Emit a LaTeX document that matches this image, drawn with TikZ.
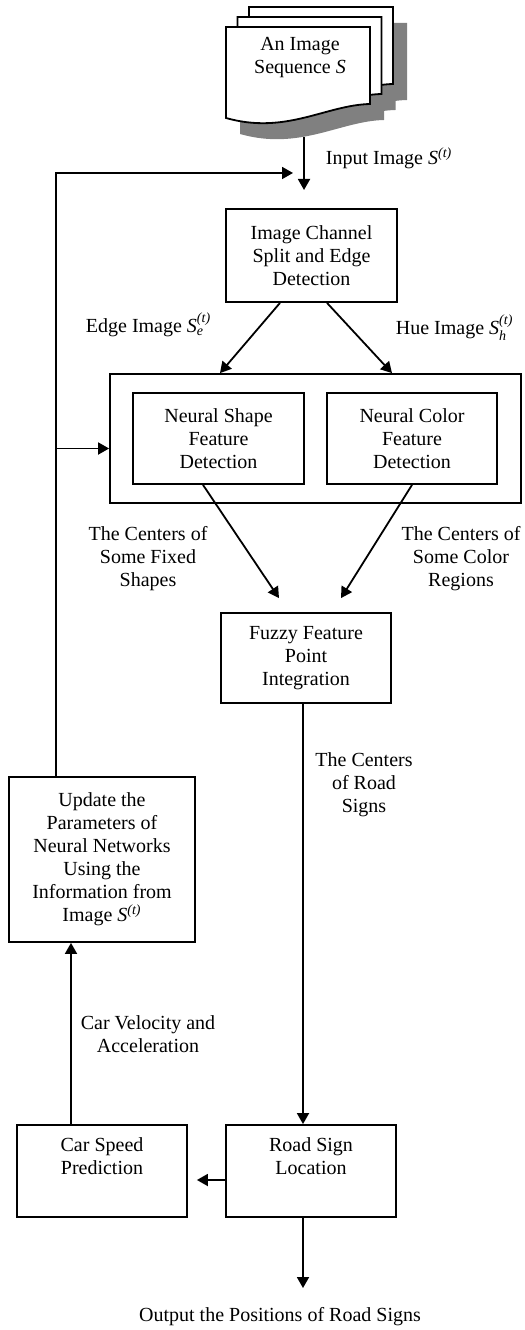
\documentclass[tikz,border=0pt]{standalone}
\usepackage{amsmath}
\usepackage{fontspec}
\setmainfont{Liberation Serif}
\usetikzlibrary{arrows.meta,calc}
\newcommand{\imgt}{\textit{S}$^{\textit{(t)}}$}
\newcommand{\imgs}[1]{\textit{S}$_{\textit{#1}}^{\textit{(t)}}$}

\begin{document}
\begin{tikzpicture}[x=0.5bp,y=-0.5bp,
    font=\fontsize{10bp}{11.5bp}\selectfont,
    line width=0.9bp,
    >={Triangle[length=5.5bp,width=6bp]},
    blk/.style={draw,inner sep=0pt,align=center},
    lbl/.style={align=center,inner sep=0pt},
    docpage/.pic={\path[pic actions] (0,0) -- (144,0) -- (144,77)
      .. controls (100,78) and (60,108) .. (0,91) -- cycle;}]
  \useasboundingbox (0,0) rectangle (525,1330);
  \foreach \dx/\dy in {249/7,237.5/17,226/27}
    \pic[fill=gray] at (\dx+14,\dy+16) {docpage};
  \foreach \dx/\dy in {249/7,237.5/17,226/27}
    \pic[draw,fill=white] at (\dx,\dy) {docpage};
  \node[lbl] (seq) at (300,57.5) {An Image\\Sequence \textit{S}};

  \node[blk,minimum width=85.5bp,minimum height=46.5bp] (split) at (311.5,255.5) {Image Channel\\Split and Edge\\Detection};
  \node[blk,minimum width=205.5bp,minimum height=64.5bp] (outer) at (315.5,438.5) {};
  \node[blk,minimum width=85.5bp,minimum height=45.5bp] (shape) at (218.5,438.5) {Neural Shape\\Feature\\Detection};
  \node[blk,minimum width=85bp,minimum height=45.5bp] (color) at (412,438.5) {Neural Color\\Feature\\Detection};
  \node[blk,minimum width=85bp,minimum height=45bp] (fuzzy) at (306,658) {Fuzzy Feature\\Point\\Integration};
  \node[blk,minimum width=93bp,minimum height=82.5bp] (update) at (102,859.5) {Update the\\Parameters of\\Neural Networks\\Using the\\Information from\\Image \imgt};
  \node[blk,minimum width=85bp,minimum height=46bp] (speed) at (102,1171) {Car Speed\\Prediction\\\strut};
  \node[blk,minimum width=85bp,minimum height=46bp] (road) at (311,1171) {Road Sign\\Location\\\strut};

  \node[lbl,anchor=west] (inlbl) at (325,158) {Input Image \imgt};
  \node[lbl,anchor=west] (elbl) at (85,325) {Edge Image \imgs{e}};
  \node[lbl,anchor=west] (hlbl) at (395,328) {Hue Image \imgs{h}};
  \node[lbl] (shlbl) at (148,559) {The Centers of\\Some Fixed\\Shapes};
  \node[lbl] (colbl) at (461,559) {The Centers of\\Some Color\\Regions};
  \node[lbl] (rslbl) at (364,785) {The Centers\\of Road\\Signs};
  \node[lbl] (vlbl) at (148,1034) {Car Velocity and\\Acceleration};
  \node[lbl] (outlbl) at (280,1317) {Output the Positions of Road Signs};

  \coordinate (seqbot) at (304,137);
  \coordinate (inpt) at (304,190);
  \coordinate (fb) at (56,173);
  \coordinate (fbend) at (293,173);
  \coordinate (br) at ([yshift=-5bp]outer.west);
  \coordinate (fr) at ($(fuzzy.south)+(-3,0)$);
  \coordinate (sp) at ($(speed.north)+(-31,0)$);
  \coordinate (outpt) at (303,1288);

  \draw[->] (seqbot) -- (inpt);
  \draw[->] (update.north -| fb) |- (fbend);
  \draw[->] (fb |- br) -- (br);
  \draw[->] ($(split.south)+(-31.5,0)$) -- ($(outer.north)+(-95.5,0)$);
  \draw[->] ($(split.south)+(15.5,0)$) -- ($(outer.north)+(76.5,0)$);
  \draw[->] ($(shape.south)+(-15.5,0)$) -- ($(fuzzy.north)+(-27,-14)$);
  \draw[->] (color.south) -- ($(fuzzy.north)+(35,-14)$);
  \draw[->] (fr) -- (fr |- road.north);
  \draw[->] ([yshift=-4.5bp]road.west) -- ([xshift=4.5bp,yshift=-4.5bp]speed.east);
  \draw[->] (sp) -- (sp |- update.south);
  \draw[->] (road.south -| outpt) -- (outpt);
\end{tikzpicture}
\end{document}
